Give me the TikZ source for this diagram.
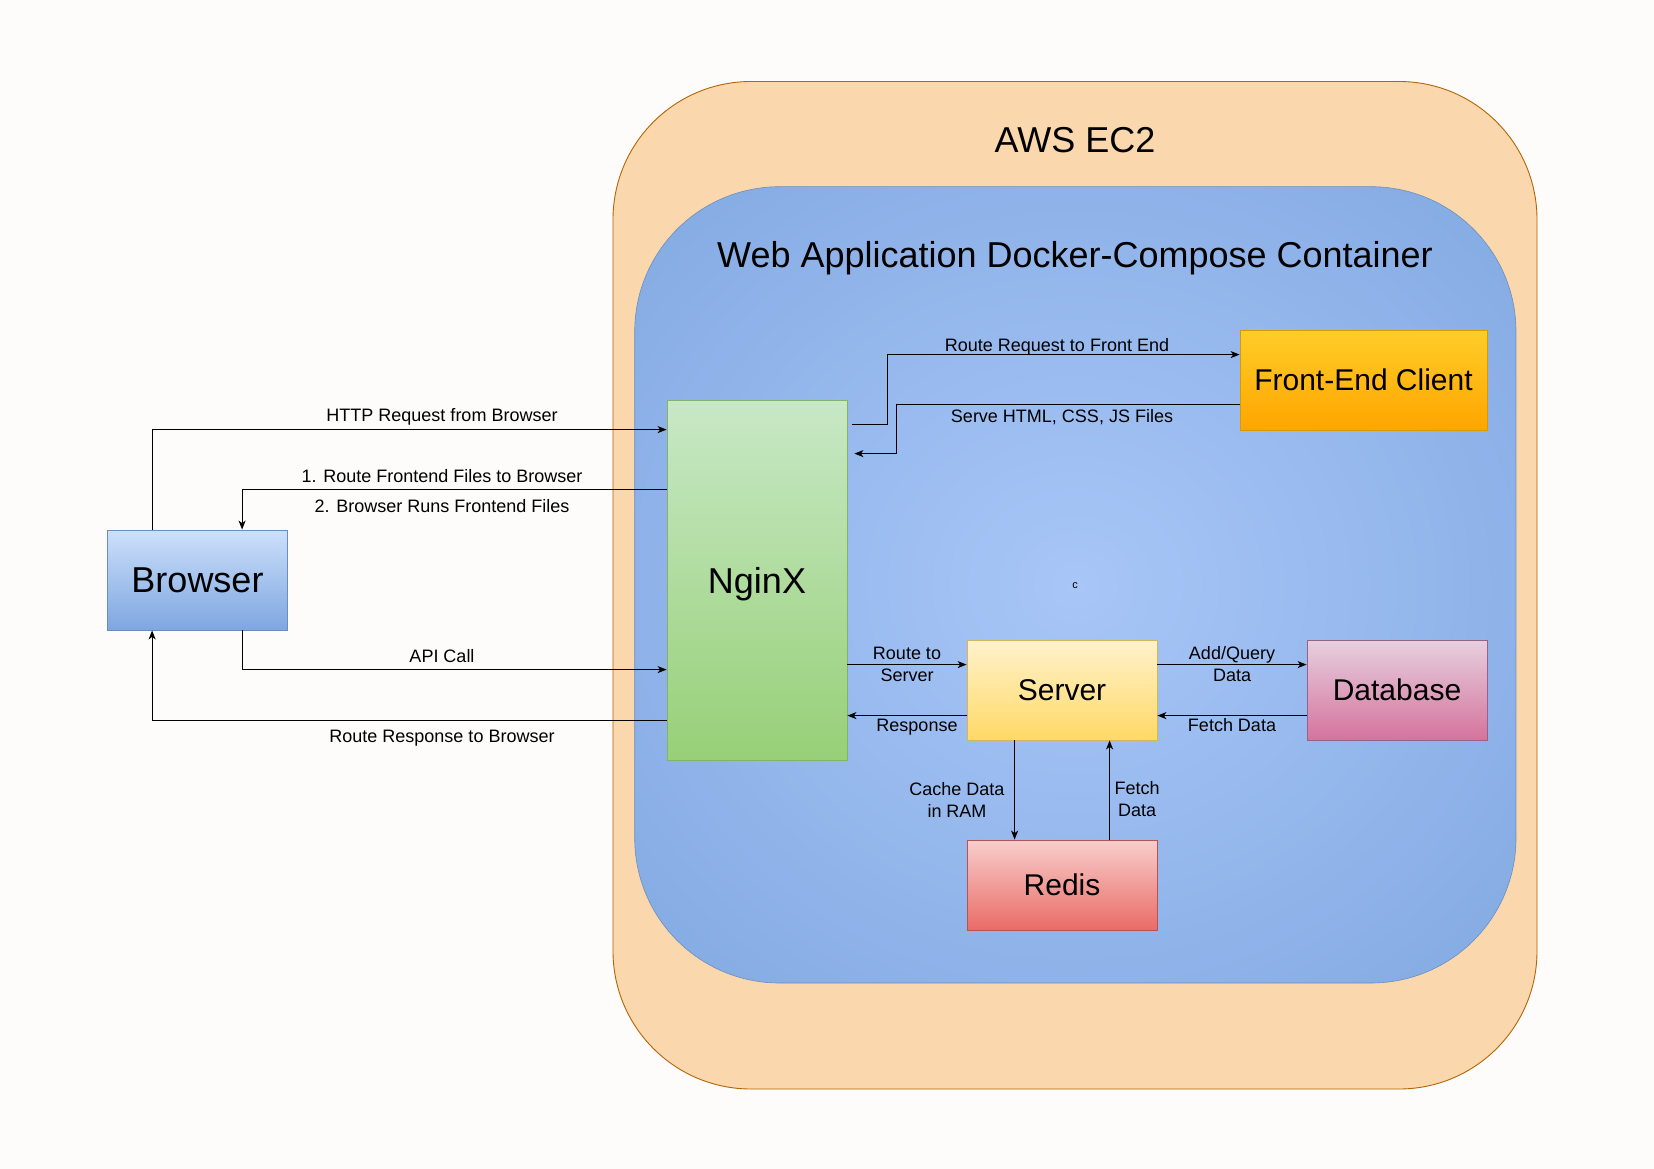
\documentclass[tikz,border=0pt]{standalone}
\usepackage{fontspec}
\setmainfont{Liberation Sans}
\usetikzlibrary{arrows.meta,calc}
\definecolor{pagebg}{HTML}{FDFCFA}
\definecolor{ec2fill}{HTML}{FAD7AC}
\definecolor{ec2line}{HTML}{B46504}
\definecolor{glowin}{HTML}{A8C6F7}
\definecolor{glowout}{HTML}{7EA6E0}
\definecolor{dockline}{HTML}{6C8EBF}
\definecolor{brTop}{HTML}{CCE0FB}
\definecolor{brBot}{HTML}{7EA6E0}
\definecolor{brLine}{HTML}{6C8EBF}
\definecolor{ngTop}{HTML}{C8E8C6}
\definecolor{ngBot}{HTML}{97D077}
\definecolor{ngLine}{HTML}{82B366}
\definecolor{feTop}{HTML}{FFCD28}
\definecolor{feBot}{HTML}{FFA500}
\definecolor{feLine}{HTML}{D79B00}
\definecolor{svTop}{HTML}{FFF2CC}
\definecolor{svBot}{HTML}{FFD966}
\definecolor{svLine}{HTML}{D6B656}
\definecolor{dbTop}{HTML}{E6D0DE}
\definecolor{dbBot}{HTML}{D5739D}
\definecolor{dbLine}{HTML}{996185}
\definecolor{rdTop}{HTML}{F8CECC}
\definecolor{rdBot}{HTML}{EA6B66}
\definecolor{rdLine}{HTML}{B85450}
\pgfdeclareradialshading{dockerglow}{\pgfpoint{0bp}{0bp}}{color(0bp)=(glowin); color(40bp)=(glowout); color(100bp)=(glowout)}
\tikzset{
  box/.style={draw, line width=0.8pt, inner sep=0pt, text depth=0pt, font=\fontsize{30}{36}\selectfont},
  bigbox/.style={box, font=\fontsize{36}{40}\selectfont},
  conn/.style={line width=1.2pt, -{Stealth[length=9pt,width=7pt,inset=2.5pt]}},
  lbl/.style={font=\fontsize{18}{22}\selectfont, inner sep=0pt, align=center},
  title/.style={font=\fontsize{36}{40}\selectfont, inner sep=0pt, anchor=base},
}
\begin{document}
\begin{tikzpicture}[x=1pt,y=-1pt]
\fill[pagebg] (0,0) rectangle (1654,1169);
\useasboundingbox (0,0) rectangle (1654,1169);

% containers
\node[draw=ec2line, fill=ec2fill, line width=0.9pt, rounded corners=138pt,
      minimum width=924pt, minimum height=1007.5pt, inner sep=0pt] (ec2) at (1075,585.25) {};
\node[draw=dockline, shading=dockerglow, line width=0.6pt, rounded corners=145pt,
      minimum width=881.3pt, minimum height=796.3pt, inner sep=0pt] (docker) at (1075.35,584.85) {};

\node[title] (ec2title) at (1075,153) {AWS EC2};
\node[title] (docktitle) at (1075,267) {Web Application Docker-Compose Container};
\node[font=\fontsize{11}{13}\selectfont, inner sep=0pt, anchor=base] (cmark) at (1075,588.5) {c};

% boxes
\node[bigbox, minimum width=180pt, minimum height=100pt, top color=brTop, bottom color=brBot, draw=brLine] (browser) at (197.5,580) {Browser};
\node[bigbox, minimum width=180pt, minimum height=360pt, top color=ngTop, bottom color=ngBot, draw=ngLine] (nginx) at (757,580) {NginX};
\node[box, minimum width=247pt, minimum height=100pt, top color=feTop, bottom color=feBot, draw=feLine] (front) at (1363.5,380) {Front-End Client};
\node[box, minimum width=190pt, minimum height=100pt, top color=svTop, bottom color=svBot, draw=svLine] (server) at (1062,690) {Server};
\node[box, minimum width=180pt, minimum height=100pt, top color=dbTop, bottom color=dbBot, draw=dbLine] (database) at (1397,690) {Database};
\node[box, minimum width=190pt, minimum height=90pt, top color=rdTop, bottom color=rdBot, draw=rdLine] (redis) at (1062,885) {Redis};

% left side connectors
\draw[conn] ([xshift=45pt]browser.north west) |- ([yshift=-30pt]nginx.north west);
\draw[conn] ([yshift=-90pt]nginx.north west) -| ([xshift=135pt]browser.north west);
\draw[conn] ([xshift=135pt]browser.south west) |- ([yshift=-270pt]nginx.north west);
\draw[conn] ([yshift=-321pt]nginx.north west) -| ([xshift=45pt]browser.south west);

\node[lbl, anchor=base] (httplbl) at (442,421) {HTTP Request from Browser};
\node[lbl, anchor=base] (routefelbl) at (442,482) {1. Route Frontend Files to Browser};
\node[lbl, anchor=base] (runslbl) at (442,512) {2. Browser Runs Frontend Files};
\node[lbl, anchor=base] (apilbl) at (442,662) {API Call};
\node[lbl, anchor=base] (resplbl) at (442,742) {Route Response to Browser};

% front end connectors
\draw[conn] ([xshift=5pt,yshift=-25pt]nginx.north east) -- ++(35,0) |- ([yshift=-25pt]front.north west);
\draw[conn] ([yshift=-75pt]front.north west) -- ++(-343,0) |- ([xshift=7pt,yshift=-54pt]nginx.north east);
\node[lbl, anchor=base] (reqfelbl) at (1057,351) {Route Request to Front End};
\node[lbl, anchor=base] (servelbl) at (1062,422) {Serve HTML, CSS, JS Files};

% server connectors
\coordinate (s1) at ([yshift=-25pt]server.north west);
\coordinate (s2) at ([yshift=-76pt]server.north west);
\draw[conn] (s1 -| nginx.east) -- (s1);
\draw[conn] (s2) -- (s2 -| nginx.east);
\draw[conn] ([yshift=-25pt]server.north east) -- ([yshift=-25pt]database.north west);
\draw[conn] ([yshift=-76pt]database.north west) -- ([yshift=-76pt]server.north east);
\draw[conn] ([xshift=48pt]server.south west) -- ([xshift=48pt]redis.north west);
\draw[conn] ([xshift=143pt]redis.north west) -- ([xshift=143pt]server.south west);

\node[lbl] (routesrvlbl) at (907,664.5) {Route to\\Server};
\node[lbl, anchor=base] (responselbl) at (917,731) {Response};
\node[lbl] (addlbl) at (1232,664.5) {Add/Query\\Data};
\node[lbl, anchor=base] (fetchdblbl) at (1232,731) {Fetch Data};
\node[lbl] (cachelbl) at (957,799.5) {Cache Data\\in RAM};
\node[lbl] (fetchrlbl) at (1137,799.5) {Fetch\\Data};
\end{tikzpicture}
\end{document}
